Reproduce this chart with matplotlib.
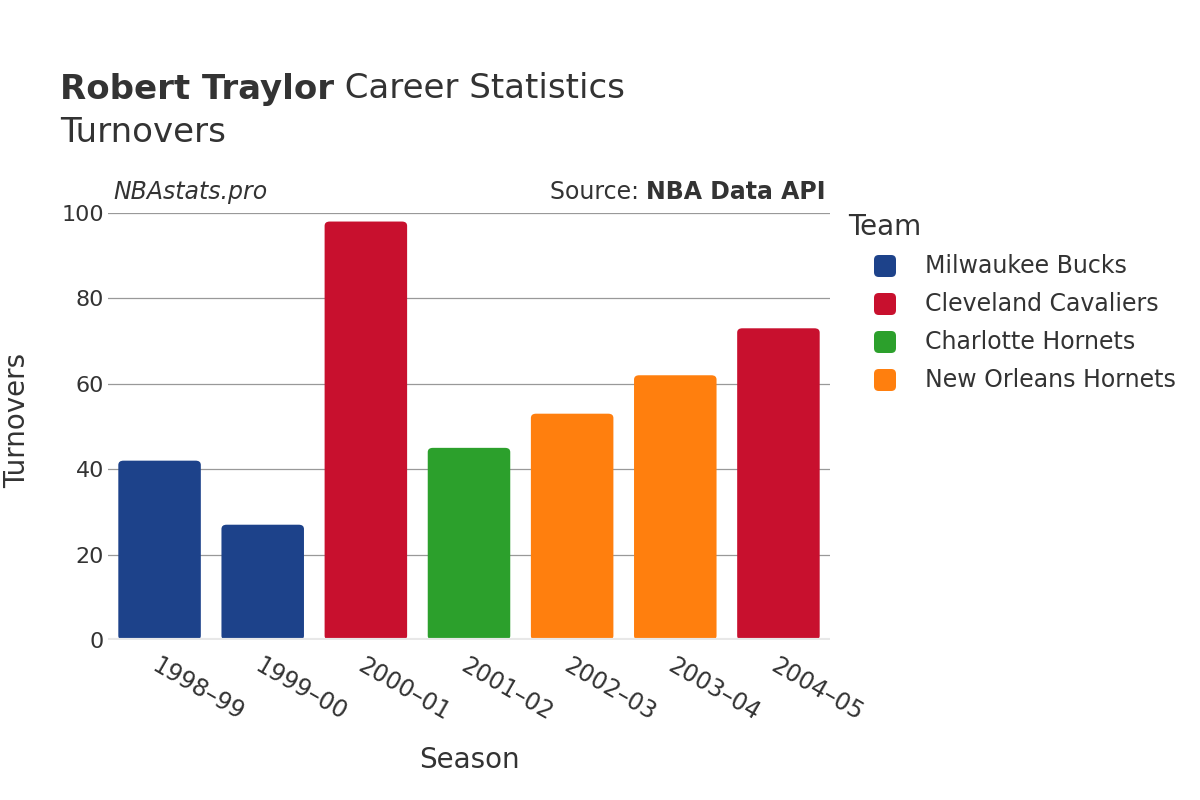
import matplotlib.pyplot as plt
from matplotlib.patches import FancyBboxPatch

seasons = ["1998–99", "1999–00", "2000–01", "2001–02", "2002–03", "2003–04", "2004–05"]
turnovers = [42, 27, 98, 45, 53, 62, 73]
teams = ["Milwaukee Bucks", "Milwaukee Bucks", "Cleveland Cavaliers", "Charlotte Hornets",
         "New Orleans Hornets", "New Orleans Hornets", "Cleveland Cavaliers"]
team_order = ["Milwaukee Bucks", "Cleveland Cavaliers", "Charlotte Hornets", "New Orleans Hornets"]
team_colors = {"Milwaukee Bucks": "#1d428a", "Cleveland Cavaliers": "#c8102e",
               "Charlotte Hornets": "#2ca02c", "New Orleans Hornets": "#ff7f0e"}

plt.rcParams['font.family'] = ['DejaVu Sans']
txt = "#333333"
W, H = 1200, 800

fig = plt.figure(figsize=(12, 8), dpi=100)
ax = fig.add_axes([108 / W, 1 - 640 / H, 722 / W, 427 / H])

bw = 0.8
for i, (v, t) in enumerate(zip(turnovers, teams)):
    p = FancyBboxPatch((i - bw / 2, 0), bw, v, boxstyle="round,pad=0,rounding_size=0.05",
                       mutation_aspect=20, fc=team_colors[t], ec="none", zorder=3)
    ax.add_patch(p)

ax.set_xlim(-0.5, len(seasons) - 0.5)
ax.set_ylim(0, 100)
ax.set_yticks([0, 20, 40, 60, 80, 100])
ax.set_xticks(range(len(seasons)))
ax.set_xticklabels(seasons, rotation=-30, ha="left", rotation_mode="anchor")
ax.tick_params(axis="both", length=0, colors=txt)
ax.tick_params(axis="y", labelsize=16, pad=3)
ax.tick_params(axis="x", labelsize=17, pad=10)
ax.grid(axis="y", color="#999999", linewidth=0.9, zorder=0)
ax.axhline(0, color="#e8e8e8", linewidth=3, zorder=4)
for s in ax.spines.values():
    s.set_visible(False)

fig.text(469 / W, 1 - 760 / H, "Season", fontsize=20, color=txt, ha="center", va="center")
fig.text(17 / W, 1 - 420 / H, "Turnovers", fontsize=20, color=txt, ha="center", va="center",
         rotation=90)

fig.canvas.draw()
r = fig.canvas.get_renderer()

t1 = fig.text(60 / W, 1 - 89 / H, "Robert Traylor", fontsize=24.5, fontweight="bold",
              color=txt, va="center")
bb = t1.get_window_extent(r)
fig.text(bb.x1 / W, 1 - 89 / H, " Career Statistics", fontsize=24.5, color=txt, va="center")
fig.text(60 / W, 1 - 132 / H, "Turnovers", fontsize=24.5, color=txt, va="center")

fig.text(113 / W, 1 - 192 / H, "NBAstats.pro", fontsize=17, style="italic", color=txt,
         va="center")
t2 = fig.text(826 / W, 1 - 192 / H, "NBA Data API", fontsize=17, fontweight="bold",
              color=txt, va="center", ha="right")
bb = t2.get_window_extent(r)
fig.text(bb.x0 / W, 1 - 192 / H, "Source: ", fontsize=17, color=txt, va="center", ha="right")

# legend
fig.text(848 / W, 1 - 227 / H, "Team", fontsize=20, color=txt, va="center")
for k, t in enumerate(team_order):
    yc = 266 + 38 * k
    sq = FancyBboxPatch((874 / W, 1 - (yc + 11) / H), 22 / W, 22 / H,
                        boxstyle="round,pad=0,rounding_size=0.004", mutation_aspect=1.5,
                        transform=fig.transFigure, fc=team_colors[t], ec="none")
    fig.patches.append(sq)
    fig.text(925 / W, 1 - yc / H, t, fontsize=17, color=txt, va="center")

fig.savefig("out.png", dpi=100)
